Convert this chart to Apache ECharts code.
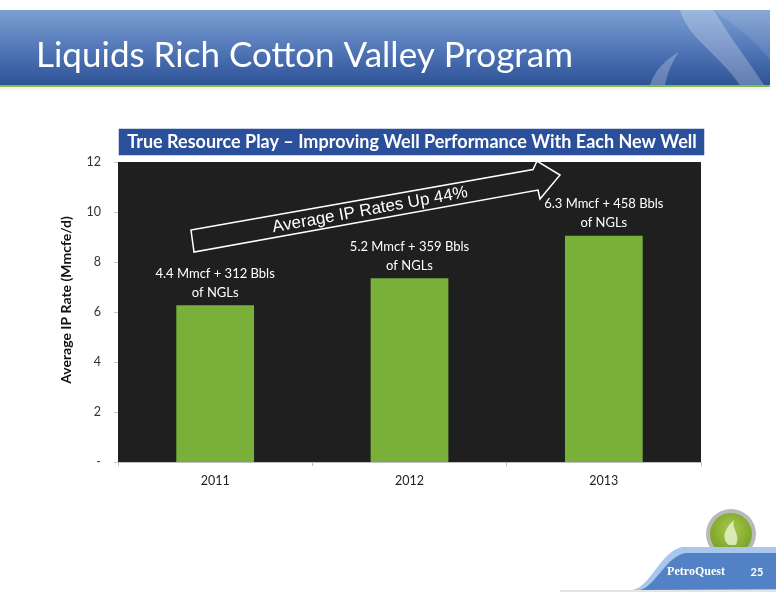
<!DOCTYPE html>
<html>
<head>
<meta charset="utf-8">
<script src="https://cdn.jsdelivr.net/npm/echarts@6/dist/echarts.min.js"></script>
<style>
html,body{margin:0;padding:0;background:#fff;}
#chart{width:776px;height:600px;}
</style>
</head>
<body>
<div id="chart"></div>
<script>
const categories = ['2011', '2012', '2013'];
const ipRates = [6.27, 7.35, 9.05];
const gasMmcf = ['4.4', '5.2', '6.3'];
const nglBbls = ['312', '359', '458'];
const yMin = 0, yMax = 12, yStep = 2;

function regPath(name, d) {
  echarts.graphic.registerShape(name, echarts.graphic.extendPath(d, {}));
}
regPath('swoosh1', 'M680,10 L714,10 C728,35 748,60 764,85 L740,85 C724,62 702,46 690,30 C685,22 681,15 680,10 Z');
regPath('swoosh2', 'M650,85 C655,70 665,60 679,52 C671,63 667,75 665,85 Z');
regPath('swoosh3', 'M714,10 L770,10 L770,60 C755,40 735,25 714,10 Z');
regPath('tabLight', 'M632,590 C650,588 660,552 682,547 L776,547 L776,590 Z');
regPath('tabDark', 'M640,590 C656,586 666,556 686,553 L776,553 L776,589 Z');
regPath('flame', 'M729,545 C720,538 726,527 734,520 C731,529 741,534 736,545 Z');

const chart = echarts.init(document.getElementById('chart'), null, {renderer: 'canvas'});

const option = {
  backgroundColor: '#ffffff',
  animation: false,
  grid: {
    left: 118, right: 75, top: 162, bottom: 138,
    show: true, backgroundColor: '#1f1f1f', borderWidth: 0
  },
  xAxis: {
    type: 'category',
    data: categories,
    axisLine: {show: true, lineStyle: {color: '#bdbdbd', width: 1}},
    axisTick: {show: true, alignWithLabel: false, length: 4, lineStyle: {color: '#bdbdbd'}},
    axisLabel: {color: '#222', fontSize: 12.5, fontFamily: 'Lato', margin: 12}
  },
  yAxis: {
    type: 'value',
    min: yMin, max: yMax, interval: yStep,
    name: 'Average IP Rate (Mmcfe/d)',
    nameLocation: 'middle',
    nameGap: 45,
    nameRotate: 90,
    nameTextStyle: {color: '#111', fontSize: 14, fontWeight: 'bold', fontFamily: 'Lato', padding: [0, 0, 0, 24]},
    axisLine: {show: false},
    axisTick: {show: true, length: 4, lineStyle: {color: '#c8c8c8'}},
    splitLine: {show: false},
    axisLabel: {
      color: '#333', fontSize: 12.5, fontFamily: 'Lato', margin: 17,
      formatter: v => (v === 0 ? '-' : String(v))
    }
  },
  series: [{
    type: 'bar',
    data: ipRates,
    barWidth: '40%',
    itemStyle: {color: '#78b03a'},
    label: {
      show: true,
      position: 'top',
      distance: 3,
      color: '#ffffff',
      fontSize: 13,
      fontFamily: 'Lato',
      lineHeight: 19,
      align: 'center',
      formatter: p => gasMmcf[p.dataIndex] + ' Mmcf + ' + nglBbls[p.dataIndex] + ' Bbls\nof NGLs'
    }
  }],
  graphic: [
    {
      type: 'rect', z: 1,
      shape: {x: 0, y: 10, width: 770, height: 76},
      style: {fill: new echarts.graphic.LinearGradient(0, 0, 0, 1, [
        {offset: 0, color: '#7c9fd2'},
        {offset: 0.5, color: '#5378b8'},
        {offset: 1, color: '#2c5296'}
      ])}
    },
    {type: 'rect', z: 2, shape: {x: 0, y: 85, width: 770, height: 2}, style: {fill: '#86b84e'}},
    {type: 'rect', z: 2, shape: {x: 0, y: 87, width: 770, height: 3}, style: {fill: 'rgba(0,0,0,0.05)'}},
    {type: 'swoosh3', z: 3, shape: {}, style: {fill: 'rgba(255,255,255,0.10)'}},
    {type: 'swoosh1', z: 3, shape: {}, style: {fill: 'rgba(255,255,255,0.25)'}},
    {type: 'swoosh2', z: 3, shape: {}, style: {fill: 'rgba(255,255,255,0.25)'}},
    {
      type: 'text', z: 5,
      x: 36, y: 56,
      style: {
        text: 'Liquids Rich Cotton Valley Program',
        fill: '#ffffff', fontSize: 35, fontFamily: 'Lato',
        verticalAlign: 'middle', align: 'left'
      }
    },
    {
      type: 'rect', z: 5,
      shape: {x: 118, y: 128, width: 587, height: 28},
      style: {fill: '#2a4f9b', stroke: '#ffffff', lineWidth: 1.5}
    },
    {
      type: 'text', z: 6,
      x: 412, y: 142,
      style: {
        text: 'True Resource Play \u2013 Improving Well Performance With Each New Well',
        fill: '#ffffff', fontSize: 18, fontWeight: 'bold', fontFamily: 'Lato',
        align: 'center', verticalAlign: 'middle'
      }
    },
    {
      type: 'polygon', z: 100,
      shape: {points: [[191, 230], [533, 169.5], [537, 161], [560, 175], [540, 199], [538, 190], [194, 252]]},
      style: {fill: 'rgba(0,0,0,0)', stroke: '#ffffff', lineWidth: 1.5}
    },
    {
      type: 'text', z: 101,
      x: 370, y: 210, rotation: 0.18,
      style: {
        text: 'Average IP Rates Up 44%',
        fill: '#ffffff', fontSize: 17, fontFamily: 'Liberation Sans',
        align: 'center', verticalAlign: 'middle'
      }
    },
    {type: 'circle', z: 4, shape: {cx: 731, cy: 534, r: 25}, style: {fill: '#b9b9b9'}},
    {
      type: 'circle', z: 4,
      shape: {cx: 731, cy: 534, r: 21},
      style: {fill: new echarts.graphic.RadialGradient(0.5, 0.4, 0.7, [
        {offset: 0, color: '#a7c94a'},
        {offset: 1, color: '#6f9a22'}
      ])}
    },
    {type: 'flame', z: 4, shape: {}, style: {fill: 'rgba(230,240,200,0.85)'}},
    {type: 'tabLight', z: 5, shape: {}, style: {fill: '#a9c6ec'}},
    {type: 'tabDark', z: 6, shape: {}, style: {fill: '#5381c6'}},
    {type: 'line', z: 5, shape: {x1: 560, y1: 591, x2: 776, y2: 591}, style: {stroke: '#c9c9c9', lineWidth: 1}},
    {
      type: 'text', z: 7,
      x: 696, y: 572,
      style: {
        text: 'PetroQuest', fill: '#ffffff', fontSize: 12, fontWeight: 'bold', fontFamily: 'Liberation Serif',
        align: 'center', verticalAlign: 'middle'
      }
    },
    {
      type: 'text', z: 7,
      x: 757, y: 572,
      style: {
        text: '25', fill: '#ffffff', fontSize: 11, fontWeight: 'bold', fontFamily: 'Lato',
        align: 'center', verticalAlign: 'middle'
      }
    }
  ]
};

chart.setOption(option);
</script>
</body>
</html>
